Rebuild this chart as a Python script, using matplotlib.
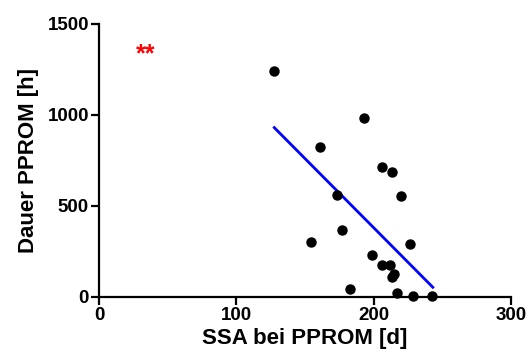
import matplotlib
matplotlib.use("Agg")
import matplotlib.pyplot as plt
import numpy as np

plt.rcParams['font.family'] = ['Liberation Sans', 'DejaVu Sans']

ssa = [127.6, 192.8, 160.7, 206.0, 213.7, 219.8, 173.6, 177.0, 154.6, 226.9,
       198.7, 206.0, 211.8, 214.7, 213.7, 182.9, 216.9, 228.6, 242.7]
dauer = [1241, 985, 825, 713, 686, 554, 559, 365, 299, 288,
         227, 174, 172, 125, 107, 44, 18, 4, 4]
fit_x = [127.6, 243.2]
fit_y = [930, 52]
xticks = [0, 100, 200, 300]
yticks = [0, 500, 1000, 1500]

fig = plt.figure(figsize=(5.29, 3.61), dpi=100)
ax = fig.add_axes([99.3/529, 64.3/361, 411.4/529, 272.7/361])
ax.plot(fit_x, fit_y, color='#0000ff', lw=2, zorder=2)
ax.plot(ssa, dauer, 'o', color='black', ms=6.5, zorder=3)
ax.text(34, 1335, '**', color='red', fontsize=18, fontweight='semibold',
        ha='center', va='center')

ax.set_xlim(0, 300)
ax.set_ylim(0, 1500)
ax.set_xticks(xticks)
ax.set_yticks(yticks)
for s in ['top', 'right']:
    ax.spines[s].set_visible(False)
for s in ['left', 'bottom']:
    ax.spines[s].set_linewidth(1.6)
ax.tick_params(direction='out', length=6, width=1.6, labelsize=13.5, pad=1.5)
for lbl in ax.get_xticklabels() + ax.get_yticklabels():
    lbl.set_fontweight('bold')
ax.set_xlabel('SSA bei PPROM [d]', fontsize=16, fontweight='bold', labelpad=3)
ax.set_ylabel('Dauer PPROM [h]', fontsize=16, fontweight='bold', labelpad=6)
ax.patch.set_alpha(0)
for line in ax.lines:
    line.set_clip_on(False)

fig.savefig('out.png', dpi=100)
